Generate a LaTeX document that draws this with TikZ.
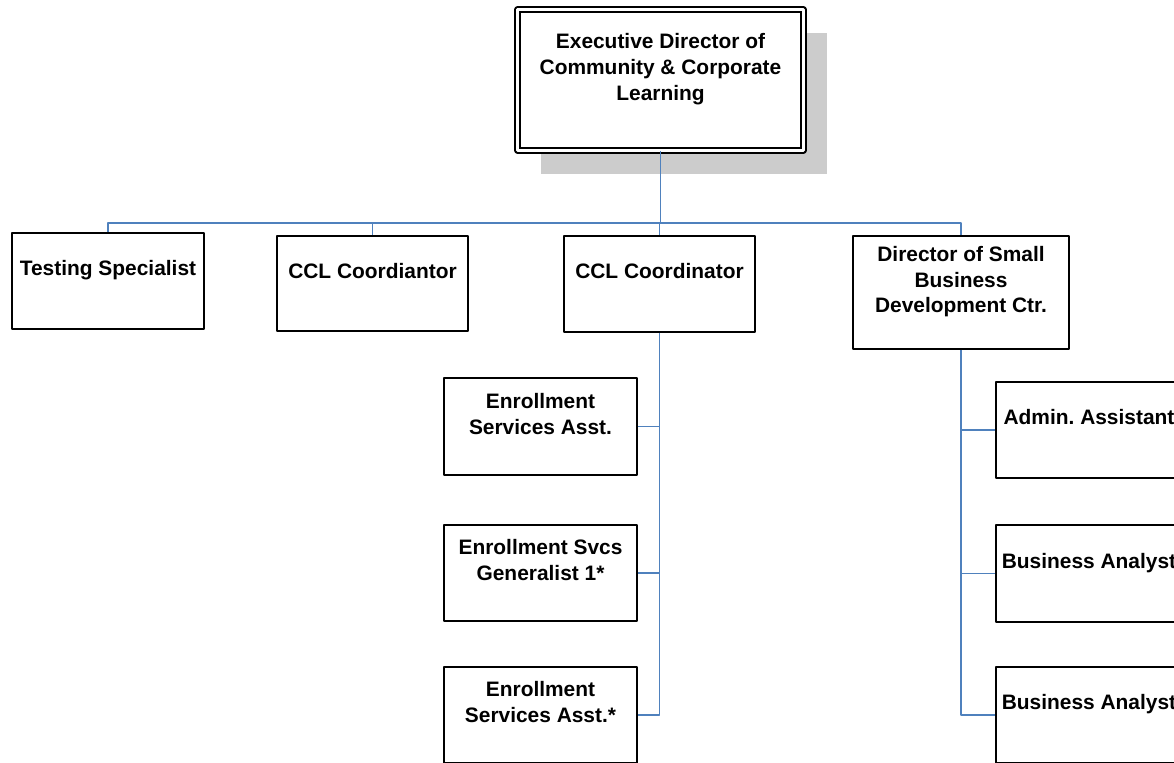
\documentclass[tikz,border=0pt]{standalone}
\usepackage{fontspec}
\setmainfont{Liberation Sans}
\usetikzlibrary{shadows}
\definecolor{linkblue}{RGB}{79,129,189}
\definecolor{shadowgray}{RGB}{204,204,204}
\begin{document}
\begin{tikzpicture}[x=0.02cm, y=-0.02cm, line join=round,
  post/.style={draw, line width=.9pt, fill=white, align=center, inner sep=1pt,
    font=\bfseries\frenchspacing\fontsize{11.9pt}{14.7pt}\selectfont},
  dims/.style 2 args={minimum width=#1*0.02cm, minimum height=#2*0.02cm},
  link/.style={draw=linkblue, line width=1pt}]
 \useasboundingbox (0,0) rectangle (1174,762);
 \clip (0,0) rectangle (1174,762);
 % top
 \node[post, dims={286}{141}, line width=.7pt, double=white, double distance=2.1pt,
   drop shadow={shadow xshift=13.6pt, shadow yshift=-13.6pt, fill=shadowgray, opacity=1}]
   (exec) at (660.5,80) {Executive Director of\\Community \& Corporate\\Learning\\\mbox{}};
 % second row
 \node[post, dims={192}{96}] (test) at (108,281) {Testing Specialist\\\mbox{}};
 \node[post, dims={191}{95}] (ccla) at (372.5,283.5) {CCL Coordiantor\\\mbox{}};
 \node[post, dims={191}{96}] (cclb) at (659.5,284) {CCL Coordinator\\\mbox{}};
 \node[post, dims={216}{113}] (sbdc) at (961,292.5) {Director of Small\\Business\\Development Ctr.\\\mbox{}};
 % under the coordinator
 \node[post, dims={193}{97}] (esa) at (540.5,426.5) {Enrollment\\Services Asst.\\\mbox{}};
 \node[post, dims={193}{96}] (esg) at (540.5,573) {Enrollment Svcs\\Generalist 1*\\\mbox{}};
 \node[post, dims={193}{96}] (esb) at (540.5,715) {Enrollment\\Services Asst.*\\\mbox{}};
 % under the director
 \node[post, dims={186}{96}] (adm) at (1089,430) {Admin. Assistant\\\mbox{}};
 \node[post, dims={186}{97}] (baa) at (1089,573.5) {Business Analyst\\\mbox{}};
 \node[post, dims={186}{96}] (bab) at (1089,715) {Business Analyst\\\mbox{}};
 % lines
 \coordinate (bus) at (0,223);
 \draw[link] (exec.south) -- (exec.south |- bus);
 \draw[link] (test.north) |- (sbdc.north |- bus) -- (sbdc.north);
 \draw[link] (ccla.north) -- (ccla.north |- bus);
 \draw[link] (cclb.north) -- (cclb.north |- bus);
 \draw[link] (cclb.south) |- (esb.east);
 \draw[link] (esa.east) -- (esa.east -| cclb.south);
 \draw[link] (esg.east) -- (esg.east -| cclb.south);
 \draw[link] (sbdc.south) |- (bab.west);
 \draw[link] (adm.west) -- (adm.west -| sbdc.south);
 \draw[link] (baa.west) -- (baa.west -| sbdc.south);
\end{tikzpicture}
\end{document}
